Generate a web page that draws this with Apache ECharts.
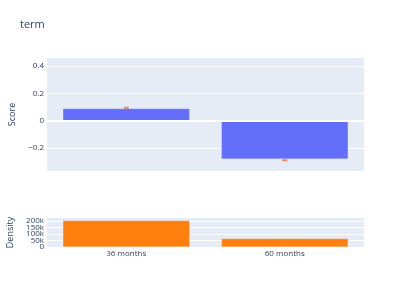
<!DOCTYPE html>
<html><head><meta charset="utf-8">
<script src="https://cdn.jsdelivr.net/npm/echarts@6/dist/echarts.min.js"></script>
<style>html,body{margin:0;padding:0;background:#fff}#c{width:411px;height:294px}</style>
</head><body><div id="c"></div>
<script>
const categories = ['36 months', '60 months'];
const scoreValues = [0.088, -0.28];
const markerValues = [0.094, -0.288];
const densityValues = [203000, 65000];
const scoreTicks = [-0.2, 0, 0.2, 0.4];
const densityTicks = [0, 50000, 100000, 150000, 200000];
const densityTickLabels = ['0', '50k', '100k', '150k', '200k'];

const txt = '#2a3f5f';
const densityEven = densityTicks.filter((v, i) => i % 2 === 0);
const densityOdd = densityTicks.filter((v, i) => i % 2 === 1);
const densityFmt = v => densityTickLabels[densityTicks.indexOf(v)];
const densityAxis = (ticks, withName, withSplit) => ({
  type: 'value', gridIndex: 1, min: 0, max: 223000, position: 'left',
  name: withName ? 'Density' : '', nameLocation: 'middle', nameGap: 29,
  nameTextStyle: {color: txt, fontFamily: 'Open Sans', fontSize: 9},
  axisLine: {show: false},
  axisTick: {show: false, customValues: densityTicks},
  axisLabel: {color: txt, fontFamily: 'Open Sans', fontSize: 8, margin: 3, customValues: ticks,
    hideOverlap: false, showMinLabel: true, showMaxLabel: true, formatter: densityFmt},
  splitLine: {show: withSplit, lineStyle: {color: '#fff', width: 1}}
});
const chart = echarts.init(document.getElementById('c'), null, {renderer: 'canvas'});
chart.setOption({
  animation: false,
  backgroundColor: '#fff',
  title: {text: 'term', left: 20, top: 19, padding: 0, textStyle: {fontFamily: 'Open Sans', fontSize: 11, fontWeight: 'normal', color: txt}},
  grid: [
    {left: 47, right: 47, top: 58, height: 113, show: true, backgroundColor: '#E5ECF6', borderWidth: 0, containLabel: false, outerBoundsMode: 'none'},
    {left: 47, right: 47, top: 218, height: 29, show: true, backgroundColor: '#E5ECF6', borderWidth: 0, containLabel: false, outerBoundsMode: 'none'}
  ],
  xAxis: [
    {type: 'category', gridIndex: 0, data: categories, axisLine: {show: false}, axisTick: {show: false}, axisLabel: {show: false}, splitLine: {show: false}},
    {type: 'category', gridIndex: 1, data: categories, axisLine: {show: false}, axisTick: {show: false},
     axisLabel: {color: txt, fontFamily: 'Open Sans', fontSize: 8, margin: 3}, splitLine: {show: false}}
  ],
  yAxis: [
    {type: 'value', gridIndex: 0, min: -0.367, max: 0.457,
     name: 'Score', nameLocation: 'middle', nameGap: 29, nameTextStyle: {color: txt, fontFamily: 'Open Sans', fontSize: 9},
     axisLine: {show: false},
     axisTick: {show: false, customValues: scoreTicks},
     axisLabel: {color: txt, fontFamily: 'Open Sans', fontSize: 8, margin: 3, customValues: scoreTicks, hideOverlap: false,
       formatter: v => v < 0 ? '\u2212' + Math.abs(v).toFixed(1) : (v === 0 ? '0' : v.toFixed(1))},
     splitLine: {show: true, lineStyle: {color: '#fff', width: 1}}},
    densityAxis(densityEven, true, true),
    densityAxis(densityOdd, false, false)
  ],
  series: [
    {type: 'bar', xAxisIndex: 0, yAxisIndex: 0, data: scoreValues, barWidth: '80%',
     itemStyle: {color: '#636efa', borderColor: 'rgba(255,255,255,0.4)', borderWidth: 0.5},
     markLine: {silent: true, symbol: 'none', label: {show: false}, lineStyle: {color: '#fff', width: 2, type: 'solid'}, data: [{yAxis: 0}]}},
    {type: 'scatter', xAxisIndex: 0, yAxisIndex: 0, data: markerValues, symbol: 'rect', symbolSize: [5, 2],
     itemStyle: {color: '#f46d2e'}, z: 5},
    {type: 'bar', xAxisIndex: 1, yAxisIndex: 1, data: densityValues, barWidth: '80%',
     itemStyle: {color: '#ff7f0e', borderColor: 'rgba(255,255,255,0.4)', borderWidth: 0.5}}
  ]
});
</script></body></html>
